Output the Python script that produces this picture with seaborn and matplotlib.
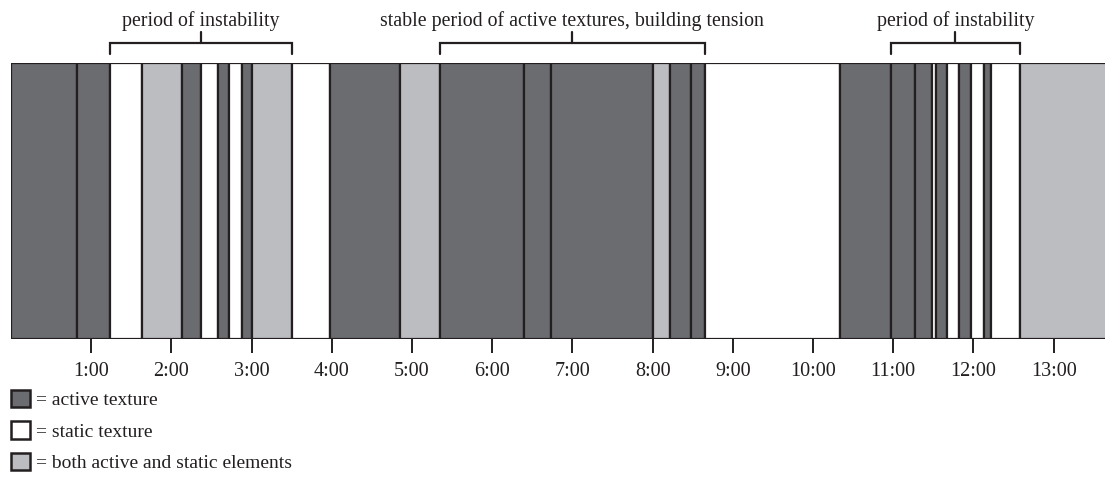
import numpy as np
import seaborn as sns
import matplotlib.pyplot as plt
from matplotlib.patches import Patch

sns.set_theme(style="white")
plt.rcParams['font.family'] = ['Liberation Serif', 'DejaVu Serif']

# section boundaries (seconds) and texture type of each section
starts = [0, 49, 74, 98, 128, 142, 155, 163, 173, 180, 210, 239, 291, 321, 384,
          404, 480, 493, 509, 519, 620, 658, 676, 689, 692, 700, 709, 718, 728,
          733, 755]
kinds = ["active", "active", "static", "both", "active", "static", "active",
         "static", "active", "both", "static", "active", "both", "active",
         "active", "active", "both", "active", "active", "static", "active",
         "active", "active", "static", "active", "static", "active", "static",
         "active", "static", "both"]
end_time = 830

# annotated periods (seconds)
period_labels = ["period of instability",
                 "stable period of active textures, building tension",
                 "period of instability"]
period_start = [74, 321, 658]
period_end = [210, 519, 755]

tick_minutes = list(range(1, 14))

colors = {"active": "#6b6c70", "static": "#ffffff", "both": "#bcbdc1"}
legend_labels = {"active": "= active texture",
                 "static": "= static texture",
                 "both": "= both active and static elements"}
edge = "#231f20"

fig = plt.figure(figsize=(11.05, 4.79), dpi=100)
ax = fig.add_axes([11 / 1105, 1 - 339 / 479, 1 - 11 / 1105, 276 / 479])

left = np.array(starts) / 60
right = np.append(np.array(starts[1:]), end_time) / 60
ax.bar(left, np.ones(len(left)), width=right - left, align='edge',
       color=[colors[k] for k in kinds], edgecolor=edge, linewidth=1.6)

ax.set_xlim(0, 13.64)
ax.set_ylim(0, 1)
for s in ax.spines.values():
    s.set_visible(False)
ax.set_yticks([])
ax.set_xticks(tick_minutes)
ax.set_xticklabels([f"{m}:00" for m in tick_minutes], fontsize=14.5)
ax.tick_params(axis='x', direction='out', length=10, width=1.4, color=edge,
               pad=6.5, labelcolor='#231f20', bottom=True)

# brackets over the annotated periods
for lab, a, b in zip(period_labels, period_start, period_end):
    a, b = a / 60, b / 60
    mid = (a + b) / 2
    ax.plot([a, a, b, b], [1.033, 1.072, 1.072, 1.033], color=edge, lw=1.6,
            clip_on=False, solid_joinstyle='miter')
    ax.plot([mid, mid], [1.072, 1.112], color=edge, lw=1.6, clip_on=False)
    ax.text(mid, 1.133, lab, ha='center', va='baseline', fontsize=14.3,
            color='#231f20', clip_on=False)

handles = [Patch(facecolor=colors[k], edgecolor=edge, linewidth=1.8,
                 label=legend_labels[k]) for k in ["active", "static", "both"]]
fig.legend(handles=handles, loc='upper left', bbox_to_anchor=(11 / 1105, 1 - 390 / 479),
           frameon=False, fontsize=14, handlelength=1.0, handleheight=1.0,
           handletextpad=0.3, labelspacing=0.62, borderpad=0, borderaxespad=0,
           labelcolor='#231f20')

fig.savefig("out.png", dpi=100)
